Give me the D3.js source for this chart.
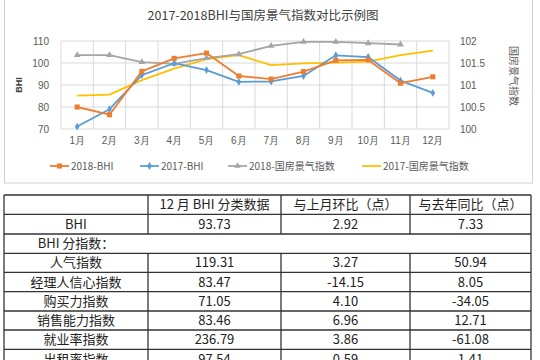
<!DOCTYPE html>
<html><head><meta charset="utf-8">
<script src="https://cdn.jsdelivr.net/npm/d3@7"></script>
<style>
html,body{margin:0;padding:0;background:#fff;}
svg{display:block;font-family:"Noto Sans CJK SC","Noto Sans",sans-serif;}
</style></head>
<body><svg id="c" width="540" height="360"></svg>
<script>
const months = ["1月","2月","3月","4月","5月","6月","7月","8月","9月","10月","11月","12月"];
const bhi2018 = [80.0, 76.5, 96.2, 102.1, 104.5, 94.1, 92.7, 96.1, 101.2, 101.4, 90.81, 93.73];
const bhi2017 = [71.1, 79.0, 94.5, 99.9, 96.8, 91.4, 91.6, 94.1, 103.5, 102.7, 92.0, 86.4];
const gf2018 = [101.68, 101.68, 101.52, 101.48, 101.61, 101.70, 101.89, 101.98, 101.98, 101.95, 101.92];
const gf2017 = [100.76, 100.78, 101.11, 101.37, 101.59, 101.68, 101.45, 101.49, 101.51, 101.53, 101.68, 101.78];
const leftTicks = [70, 80, 90, 100, 110];
const rightTicks = [100, 100.5, 101, 101.5, 102];
const seriesNames = ["2018-BHI", "2017-BHI", "2018-国房景气指数", "2017-国房景气指数"];

const tableHeaders = ["", "12 月 BHI 分类数据", "与上月环比（点）", "与去年同比（点）"];
const rowLabels = ["BHI", "人气指数", "经理人信心指数", "购买力指数", "销售能力指数", "就业率指数", "出租率指数"];
const curValues = ["93.73", "119.31", "83.47", "71.05", "83.46", "236.79", "97.54"];
const momValues = ["2.92", "3.27", "-14.15", "4.10", "6.96", "3.86", "0.59"];
const yoyValues = ["7.33", "50.94", "8.05", "-34.05", "12.71", "-61.08", "1.41"];
const subHeader = "BHI 分指数：";

const svg = d3.select("#c");
svg.append("rect").attr("width",540).attr("height",360).attr("fill","#fff");

// chart frame
svg.append("rect").attr("x",4.5).attr("y",-1).attr("width",528).attr("height",184)
  .attr("fill","none").attr("stroke","#d0d0d0");

const L = 61, R = 449, T = 41, B = 129;
const x = d3.scaleBand().domain(months).range([L, R]);
const yL = d3.scaleLinear().domain([70,110]).range([B, T]);
const yR = d3.scaleLinear().domain([100,102]).range([B, T]);

// grid
const g = svg.append("g");
g.selectAll(".hg").data(leftTicks).enter().append("line")
  .attr("x1",L).attr("x2",R).attr("y1",d=>yL(d)).attr("y2",d=>yL(d))
  .attr("stroke","#d9d9d9").attr("stroke-width",1);
const bounds = months.map(m=>x(m)).concat([R]);
g.selectAll(".vg").data(bounds).enter().append("line")
  .attr("x1",d=>d).attr("x2",d=>d).attr("y1",T).attr("y2",B)
  .attr("stroke","#d9d9d9").attr("stroke-width",1);

// axes
const axL = d3.axisLeft(yL).tickValues(leftTicks).tickSize(0).tickPadding(12);
const gL = svg.append("g").attr("transform",`translate(${L},0)`).call(axL);
gL.select(".domain").remove();
gL.selectAll("text").attr("font-size",10).attr("fill","#595959").attr("font-family","Liberation Sans, Arial, sans-serif");

const axR = d3.axisRight(yR).tickValues(rightTicks).tickSize(0).tickPadding(11).tickFormat(d=>d3.format("")(d));
const gR = svg.append("g").attr("transform",`translate(${R},0)`).call(axR);
gR.select(".domain").remove();
gR.selectAll("text").attr("font-size",10).attr("fill","#595959").attr("font-family","Liberation Sans, Arial, sans-serif");

const axB = d3.axisBottom(x).tickSize(0).tickPadding(8);
const gB = svg.append("g").attr("transform",`translate(0,${B})`).call(axB);
gB.select(".domain").remove();
gB.selectAll("text").attr("font-size",10).attr("fill","#595959");

// axis titles
svg.append("text").attr("transform","translate(22,85) rotate(-90)").attr("text-anchor","middle")
  .attr("font-size",9).attr("font-weight","bold").attr("fill","#404040").attr("font-family","Liberation Sans, Arial, sans-serif").text("BHI");
svg.append("text").attr("transform","translate(510,76) rotate(90)").attr("text-anchor","middle")
  .attr("font-size",10).attr("fill","#595959").text("国房景气指数");

// title
svg.append("text").attr("x",263).attr("y",20).attr("text-anchor","middle")
  .attr("font-size",12.5).attr("fill","#404040").text("2017-2018BHI与国房景气指数对比示例图");

const cx = m => x(m) + x.bandwidth()/2;
const colors = ["#ED7D31", "#5B9BD5", "#A5A5A5", "#FFC000"];
const seriesData = [
  {vals: bhi2018, y: yL, c: colors[0], mk: "square"},
  {vals: bhi2017, y: yL, c: colors[1], mk: "diamond"},
  {vals: gf2018, y: yR, c: colors[2], mk: "triangle"},
  {vals: gf2017, y: yR, c: colors[3], mk: "none"}
];
const drawOrder = [3, 2, 1, 0];
drawOrder.forEach(i => {
  const s = seriesData[i];
  const pts = s.vals.map((v,j)=>[cx(months[j]), s.y(v)]);
  svg.append("path").attr("d", d3.line()(pts)).attr("fill","none")
    .attr("stroke", s.c).attr("stroke-width", 1.8).attr("stroke-linejoin","round");
  if (s.mk !== "none") {
    const sym = s.mk === "square" ? d3.symbolSquare : s.mk === "diamond" ? d3.symbolDiamond : d3.symbolTriangle;
    const size = s.mk === "square" ? 26 : s.mk === "diamond" ? 18 : 20;
    svg.append("g").selectAll("path").data(pts).enter().append("path")
      .attr("transform", d=>`translate(${d[0]},${d[1]})`)
      .attr("d", d3.symbol().type(sym).size(size)).attr("fill", s.c);
  }
});

// legend
const legX = [50, 140, 228, 362];
const legMk = ["square","diamond","triangle","none"];
seriesNames.forEach((n,i)=>{
  const lg = svg.append("g").attr("transform",`translate(${legX[i]},166)`);
  lg.append("line").attr("x1",0).attr("x2",19).attr("y1",0).attr("y2",0).attr("stroke",colors[i]).attr("stroke-width",1.8);
  if (legMk[i] !== "none") {
    const sym = legMk[i]==="square"?d3.symbolSquare:legMk[i]==="diamond"?d3.symbolDiamond:d3.symbolTriangle;
    lg.append("path").attr("transform","translate(9.5,0)").attr("d", d3.symbol().type(sym).size(legMk[i]==="square"?26:18)).attr("fill",colors[i]);
  }
  lg.append("text").attr("x",21).attr("y",3.5).attr("font-size",10).attr("fill","#595959").text(n);
});

// table
const colX = [4, 148, 281, 410, 531];
const rowY = [195, 214.3, 234, 253.3, 272.3, 291.7, 311, 330, 349.3, 368.6];
const tb = svg.append("g");
const tstroke = "#333";
const fs = 13;
function cellText(col, row, txt, anchorX) {
  const cxm = anchorX !== undefined ? anchorX : (colX[col]+colX[col+1])/2;
  tb.append("text").attr("x", cxm).attr("y", (rowY[row]+rowY[row+1])/2 + 4.6)
    .attr("text-anchor","middle").attr("font-size", fs).attr("fill","#222").text(txt);
}
// header row
tableHeaders.forEach((h,i)=>{ if (h) cellText(i, 0, h); });
// BHI row
const rows = [];
rows.push({label: rowLabels[0], vals:[curValues[0], momValues[0], yoyValues[0]], r:1});
for (let k=1;k<rowLabels.length;k++) rows.push({label: rowLabels[k], vals:[curValues[k], momValues[k], yoyValues[k]], r:k+2});
rows.forEach(rw=>{
  cellText(0, rw.r, rw.label);
  rw.vals.forEach((v,j)=>cellText(j+1, rw.r, v));
});
cellText(0, 2, subHeader);

// horizontal lines
rowY.forEach((yy,i)=>{
  tb.append("line").attr("x1",colX[0]).attr("x2",colX[4]).attr("y1",yy).attr("y2",yy)
    .attr("stroke",tstroke).attr("stroke-width",1.3);
});
// vertical lines
colX.forEach((xx,i)=>{
  if (i===0 || i===4) {
    tb.append("line").attr("x1",xx).attr("x2",xx).attr("y1",rowY[0]).attr("y2",360)
      .attr("stroke",tstroke).attr("stroke-width",1.3);
  } else {
    [[rowY[0], rowY[2]], [rowY[3], 360]].forEach(seg=>{
      tb.append("line").attr("x1",xx).attr("x2",xx).attr("y1",seg[0]).attr("y2",seg[1])
        .attr("stroke",tstroke).attr("stroke-width",1.3);
    });
  }
});
</script>
</body></html>
